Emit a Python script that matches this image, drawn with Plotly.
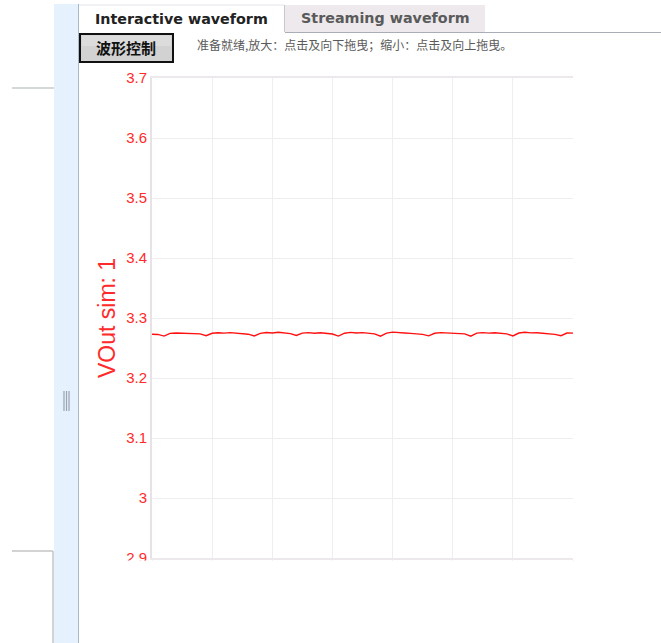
import plotly.graph_objects as go

W, H = 661, 643

# Sampled output voltage (V) of the "VOut sim: 1" probe
sample = list(range(71))
vout = [
    3.2730, 3.2726, 3.2698, 3.2743, 3.2750, 3.2746, 3.2754, 3.2748, 3.2736,
    3.2704, 3.2746, 3.2753, 3.2748, 3.2756, 3.2746, 3.2738, 3.2730, 3.2701,
    3.2743, 3.2758, 3.2750, 3.2763, 3.2750, 3.2740, 3.2708, 3.2748, 3.2756,
    3.2746, 3.2753, 3.2743, 3.2733, 3.2699, 3.2746, 3.2760, 3.2750, 3.2756,
    3.2746, 3.2736, 3.2698, 3.2748, 3.2764, 3.2753, 3.2750, 3.2744, 3.2738,
    3.2728, 3.2702, 3.2746, 3.2756, 3.2750, 3.2754, 3.2746, 3.2736, 3.2698,
    3.2748, 3.2756, 3.2748, 3.2755, 3.2746, 3.2736, 3.2700, 3.2750, 3.2763,
    3.2752, 3.2754, 3.2746, 3.2738, 3.2728, 3.2704, 3.2750, 3.2748,
]

y_tick_vals = [2.9, 3.0, 3.1, 3.2, 3.3, 3.4, 3.5, 3.6, 3.7]
y_tick_text = ["2.9", "3", "3.1", "3.2", "3.3", "3.4", "3.5", "3.6", "3.7"]

tab_labels = ["Interactive waveform", "Streaming waveform"]
button_label = "波形控制"
status_text = "准备就绪,放大：点击及向下拖曳；缩小：点击及向上拖曳。"
axis_title = "VOut sim: 1"


def px(x):
    return x / W


def py(y):
    return 1 - y / H


RED = "#ff2a2a"

fig = go.Figure()
fig.add_trace(go.Scatter(
    x=sample, y=vout, mode="lines",
    line=dict(color="#ff1010", width=1.4),
    hoverinfo="x+y", showlegend=False,
))

shapes = []


def rect(x0, y0, x1, y1, fill, line_color=None, line_width=0, layer="above"):
    shapes.append(dict(
        type="rect", xref="paper", yref="paper",
        x0=px(x0), x1=px(x1), y0=py(y1), y1=py(y0),
        fillcolor=fill, layer=layer,
        line=dict(color=line_color or fill, width=line_width),
    ))


def seg(x0, y0, x1, y1, color, width=1):
    shapes.append(dict(
        type="line", xref="paper", yref="paper",
        x0=px(x0), x1=px(x1), y0=py(y0), y1=py(y1),
        layer="above", line=dict(color=color, width=width),
    ))


# chart container clips below its bottom edge
rect(79, 560.5, W, H, "white")

# side panel with splitter
rect(54, 4, 78, H, "#e5f1fd")
seg(78.5, 4, 78.5, H, "#a9b9c9", 1)
for gx in (64, 66.5, 69):
    seg(gx, 391, gx, 411, "#9aa4b0", 1.2)
seg(12, 88, 54, 88, "#d3d9d9", 2)
seg(12, 551, 53, 551, "#c4c4c4", 1.5)
seg(53, 551, 53, H, "#c4c4c4", 1.5)

# tab strip
rect(285, 5, 485, 32, "#ede9ed")
seg(285, 32.5, W, 32.5, "#a9aeb6", 1.2)
seg(284.5, 5, 284.5, 32, "#c8c8cc", 1)
seg(79, 5, 284, 5, "#e4e4e8", 1)

# control button
rect(80, 34, 173, 62, "#d2d2d2", "#111111", 2)
rect(82, 35.5, 171, 46, "#dcdcdc")

annotations = [
    dict(x=px(181.5), y=py(19), text="<b>%s</b>" % tab_labels[0],
         font=dict(family="DejaVu Sans", size=14.3, color="#222222")),
    dict(x=px(385), y=py(18.5), text="<b>%s</b>" % tab_labels[1],
         font=dict(family="DejaVu Sans", size=14.3, color="#5a5a5a")),
    dict(x=px(126), y=py(47.5), text="<b>%s</b>" % button_label,
         font=dict(family="Noto Sans CJK SC", size=15, color="#111111")),
    dict(x=px(195), y=py(44), text=status_text, xanchor="left",
         font=dict(family="Noto Sans CJK SC", size=12, color="#5a5a5a")),
    dict(x=px(107), y=py(318), text=axis_title, textangle=-90,
         font=dict(family="Arial, Liberation Sans", size=23, color=RED)),
]
for a in annotations:
    a.setdefault("xanchor", "center")
    a.update(xref="paper", yref="paper", showarrow=False, yanchor="middle")

fig.update_layout(
    width=W, height=H,
    margin=dict(l=0, r=0, t=0, b=0, pad=0, autoexpand=False),
    paper_bgcolor="white", plot_bgcolor="white",
    shapes=shapes, annotations=annotations,
    xaxis=dict(
        domain=[px(152), px(573)], range=[0, 70],
        tick0=0, dtick=10, showticklabels=False,
        showgrid=True, gridcolor="#f0edf0", gridwidth=1,
        showline=True, linecolor="#ece8ec", linewidth=2, mirror=True,
        ticks="outside", ticklen=3, tickcolor="#e4e0e4",
        zeroline=False, fixedrange=True, automargin=False,
    ),
    yaxis=dict(
        domain=[py(558), py(78)], range=[2.9, 3.7],
        tickvals=y_tick_vals, ticktext=y_tick_text,
        tickfont=dict(family="Arial, Liberation Sans", size=15, color=RED),
        showgrid=True, gridcolor="#f0edf0", gridwidth=1,
        showline=True, linecolor="#e6e2e6", linewidth=2,
        ticks="", zeroline=False, fixedrange=True, automargin=False,
    ),
)

fig.write_html("out.html")
